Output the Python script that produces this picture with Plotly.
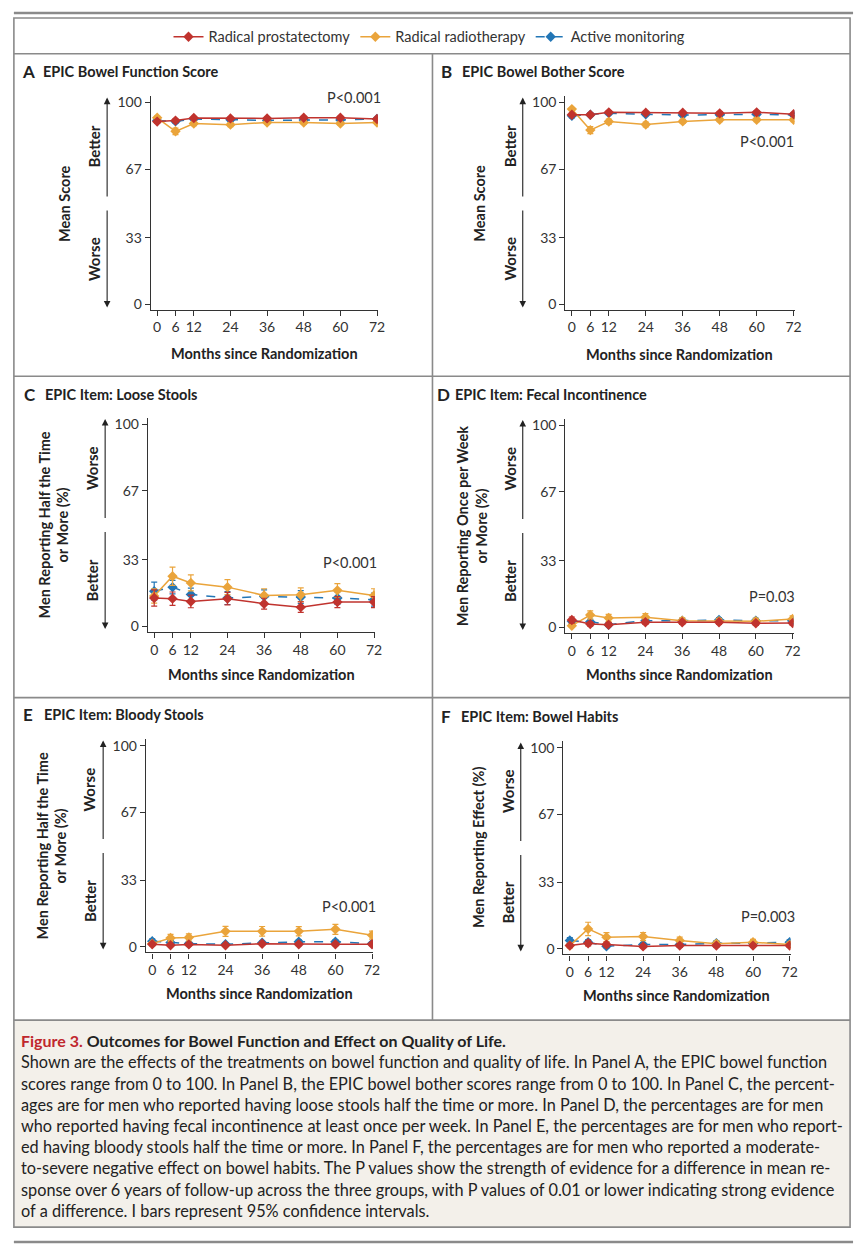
import plotly.graph_objects as go

W, H = 866, 1258
FONT = "Lato, 'Open Sans', sans-serif"

months = [0, 6, 12, 24, 36, 48, 60, 72]
series_names = ["Radical prostatectomy", "Radical radiotherapy", "Active monitoring"]

# Panel A: EPIC bowel function score
A_rp = [90.5, 91.0, 92.3, 92.1, 92.1, 92.4, 92.4, 91.8]
A_rt = [92.4, 85.7, 89.6, 89.0, 90.1, 90.1, 89.6, 90.1]
A_am = [91.0, 90.6, 91.8, 91.4, 91.1, 91.3, 91.3, 91.8]
A_rp_err = [0.8, 0.8, 0.7, 0.7, 0.7, 0.7, 0.7, 0.7]
A_rt_err = [0.8, 1.6, 1.1, 1.0, 0.9, 0.9, 0.9, 0.9]
A_am_err = [0.8, 0.8, 0.7, 0.7, 0.7, 0.7, 0.7, 0.7]

# Panel B: EPIC bowel bother score
B_rp = [93.9, 93.9, 95.1, 94.9, 94.9, 94.6, 95.1, 94.2]
B_rt = [96.7, 86.3, 90.5, 89.1, 90.6, 91.4, 91.4, 91.4]
B_am = [93.4, 93.9, 94.7, 94.1, 93.8, 93.9, 94.1, 93.8]
B_rp_err = [0.8, 0.8, 0.7, 0.7, 0.7, 0.7, 0.7, 0.7]
B_rt_err = [0.8, 1.7, 1.2, 1.2, 1.0, 0.9, 0.9, 0.9]
B_am_err = [1.0, 0.8, 0.7, 0.7, 0.7, 0.7, 0.7, 0.7]

# Panel C: loose stools
C_rp = [14.0, 13.7, 12.3, 13.7, 11.2, 9.5, 12.0, 12.0]
C_rt = [15.0, 24.8, 21.5, 19.4, 15.3, 15.6, 17.8, 15.3]
C_am = [17.4, 19.4, 15.8, 14.0, 14.8, 14.5, 14.0, 13.2]
C_rp_err = [4.0, 3.3, 3.1, 3.1, 2.7, 2.6, 2.7, 2.7]
C_rt_err = [3.5, 4.5, 4.0, 3.7, 3.3, 3.4, 3.3, 3.3]
C_am_err = [4.5, 3.3, 3.1, 3.2, 3.2, 3.2, 3.1, 3.2]

# Panel D: fecal incontinence
D_rp = [3.6, 1.6, 1.3, 2.5, 2.5, 2.5, 2.0, 2.1]
D_rt = [0.8, 6.1, 4.6, 5.0, 3.3, 3.0, 3.0, 4.1]
D_am = [3.0, 2.8, 1.3, 3.3, 3.3, 3.6, 3.3, 3.3]
D_rp_err = [1.5, 1.0, 0.9, 1.1, 1.0, 1.0, 1.0, 1.0]
D_rt_err = [0.8, 2.0, 1.8, 1.8, 1.4, 1.4, 1.4, 1.6]
D_am_err = [1.3, 1.2, 0.9, 1.2, 1.2, 1.2, 1.2, 1.2]

# Panel E: bloody stools
E_rp = [1.3, 0.8, 1.2, 0.8, 1.5, 1.3, 1.3, 1.3]
E_rt = [1.6, 4.4, 4.6, 7.7, 7.7, 7.7, 8.7, 5.8]
E_am = [2.8, 2.1, 1.6, 1.3, 2.0, 2.5, 2.5, 1.6]
E_rp_err = [0.7, 0.6, 0.6, 0.6, 0.7, 0.7, 0.7, 0.7]
E_rt_err = [1.0, 1.8, 1.8, 2.5, 2.4, 2.3, 2.5, 2.0]
E_am_err = [1.2, 1.0, 0.9, 0.8, 0.9, 1.0, 1.0, 0.9]

# Panel F: bowel habits
F_rp = [1.6, 2.8, 2.1, 1.2, 1.6, 1.6, 1.6, 1.6]
F_rt = [1.6, 9.9, 5.8, 6.1, 4.1, 2.5, 3.3, 2.1]
F_am = [4.1, 3.3, 1.3, 2.1, 2.1, 2.8, 2.8, 3.3]
F_rp_err = [1.0, 1.3, 1.1, 0.8, 0.9, 0.9, 0.9, 0.9]
F_rt_err = [1.0, 3.3, 2.2, 2.0, 1.7, 1.3, 1.4, 1.2]
F_am_err = [1.5, 1.3, 0.9, 1.0, 1.0, 1.1, 1.1, 1.2]

y_ticks = [0, 33, 67, 100]
x_ticks = months

panel_letters = ["A", "B", "C", "D", "E", "F"]
panel_titles = ["EPIC Bowel Function Score", "EPIC Bowel Bother Score",
                "EPIC Item: Loose Stools", "EPIC Item: Fecal Incontinence",
                "EPIC Item: Bloody Stools", "EPIC Item: Bowel Habits"]
y_titles = ["Mean Score", "Mean Score",
            "Men Reporting Half the Time<br>or More (%)",
            "Men Reporting Once per Week<br>or More (%)",
            "Men Reporting Half the Time<br>or More (%)",
            "Men Reporting Effect (%)"]
p_values = ["P<0.001", "P<0.001", "P<0.001", "P=0.03", "P<0.001", "P=0.003"]
x_title = "Months since Randomization"

data = [
    (A_rp, A_rt, A_am, A_rp_err, A_rt_err, A_am_err),
    (B_rp, B_rt, B_am, B_rp_err, B_rt_err, B_am_err),
    (C_rp, C_rt, C_am, C_rp_err, C_rt_err, C_am_err),
    (D_rp, D_rt, D_am, D_rp_err, D_rt_err, D_am_err),
    (E_rp, E_rt, E_am, E_rp_err, E_rt_err, E_am_err),
    (F_rp, F_rt, F_am, F_rp_err, F_rt_err, F_am_err),
]

COL_RP = "#c0332e"
COL_RT = "#eaa43b"
COL_AM = "#2276b6"
TXT = "#222222"


def px(x):
    return x / W


def py(y):
    return 1 - y / H


# axes domains in pixels: (x_left, x_right, y_top, y_bottom)
dom = [
    (152, 381, 93, 308),
    (570, 801, 93, 308),
    (149, 378, 417, 632),
    (570, 800, 418, 633),
    (147, 376, 740, 954),
    (568, 797, 742, 956),
]
XR = [-2.1, 72.3]
YR_AB = [-2.5, 103.4]
YR_CF = [-2.8, 103.1]

fig = go.Figure()
layout_axes = {}
annotations = []
shapes = []

for i in range(6):
    rp, rt, am, rpe, rte, ame = data[i]
    xa = "x" if i == 0 else f"x{i+1}"
    ya = "y" if i == 0 else f"y{i+1}"
    show = (i == 0)
    for name, vals, errs, col, dash, rank in [
        (series_names[2], am, ame, COL_AM, "dash", 3),
        (series_names[1], rt, rte, COL_RT, "solid", 2),
        (series_names[0], rp, rpe, COL_RP, "solid", 1),
    ]:
        fig.add_trace(go.Scatter(
            x=months, y=vals, mode="lines+markers", name=name,
            legendgroup=name, showlegend=show, legendrank=rank,
            line=dict(color=col, width=1.5, dash=dash),
            marker=dict(symbol="diamond", size=8, color=col),
            error_y=dict(type="data", array=errs, visible=True,
                         color=col, thickness=1.2, width=3),
            xaxis=xa, yaxis=ya,
        ))
    xl, xr, yt, yb = dom[i]
    yr = YR_AB if i < 2 else YR_CF
    key = "" if i == 0 else str(i + 1)
    layout_axes["xaxis" + key] = dict(
        domain=[px(xl), px(xr)], range=XR, anchor=ya,
        tickvals=x_ticks, ticks="outside", ticklen=5, tickwidth=1.1,
        tickcolor="#333", showline=True, linecolor="#333", linewidth=1.2,
        showgrid=False, zeroline=False,
        tickfont=dict(family=FONT, size=14, color="#333"),
    )
    layout_axes["yaxis" + key] = dict(
        domain=[py(yb), py(yt)], range=yr, anchor=xa,
        tickvals=y_ticks, ticks="outside", ticklen=5, tickwidth=1.1,
        tickcolor="#333", showline=True, linecolor="#333", linewidth=1.2,
        showgrid=False, zeroline=False,
        tickfont=dict(family=FONT, size=14, color="#333"),
    )

# panel specific text geometry (pixels)
letter_pos = [(20, 69), (443, 69), (22, 393), (439, 393), (21, 715), (443, 717)]
title_x = [41, 464, 43, 457, 42, 463]
arrow_x = [108, 527, 106, 527, 104, 525]
bw_x = [95, 514, 93, 514, 90, 512]
ytitle_x = [65, 483, 54, 476, 52, 483]
y100 = [100, 100, 423, 424, 746, 748]
y0 = [303, 303, 626, 627, 948, 950]
xtitle_y = [352, 353, 675, 675, 995, 997]
pval_pos = [(357, 95), (773, 139), (353, 562), (778, 596), (352, 908), (774, 918)]


def ann(x, y, text, size, color=TXT, xanchor="center", angle=0):
    return dict(x=px(x), y=py(y), xref="paper", yref="paper",
                xanchor=xanchor, yanchor="middle", showarrow=False,
                text=text, textangle=angle,
                font=dict(family=FONT, size=size, color=color))


for i in range(6):
    lx, ly = letter_pos[i]
    annotations.append(ann(lx, ly, "<b>" + panel_letters[i] + "</b>", 17, xanchor="left"))
    annotations.append(ann(title_x[i], ly, "<b>" + panel_titles[i] + "</b>", 14.5, xanchor="left"))
    mid = (y100[i] + y0[i]) / 2
    top_tip = y100[i] - 5
    bot_tip = y0[i] + 3
    ax_ = arrow_x[i]
    annotations.append(dict(
        x=px(ax_), y=py(top_tip), xref="paper", yref="paper",
        ax=0, ay=(mid - 6) - top_tip, showarrow=True, text="",
        arrowhead=2, arrowsize=1.2, arrowwidth=1.1, arrowcolor="#222"))
    annotations.append(dict(
        x=px(ax_), y=py(bot_tip), xref="paper", yref="paper",
        ax=0, ay=(mid + 6) - bot_tip, showarrow=True, text="",
        arrowhead=2, arrowsize=1.2, arrowwidth=1.1, arrowcolor="#222"))
    upper = "Better" if i < 2 else "Worse"
    lower = "Worse" if i < 2 else "Better"
    annotations.append(ann(bw_x[i], y100[i] + 44, "<b>" + upper + "</b>", 15, angle=-90))
    annotations.append(ann(bw_x[i], y0[i] - 46, "<b>" + lower + "</b>", 15, angle=-90))
    annotations.append(ann(ytitle_x[i], mid, "<b>" + y_titles[i] + "</b>", 14.5, angle=-90))
    xl, xr, yt, yb = dom[i]
    annotations.append(ann((xl + xr) / 2, xtitle_y[i], "<b>" + x_title + "</b>", 14.5))
    pxp, pyp = pval_pos[i]
    annotations.append(ann(pxp, pyp, p_values[i], 14.5, color="#333"))

# Caption
caption_lines = [
    "Shown are the effects of the treatments on bowel function and quality of life. In Panel A, the EPIC bowel function",
    "scores range from 0 to 100. In Panel B, the EPIC bowel bother scores range from 0 to 100. In Panel C, the percent-",
    "ages are for men who reported having loose stools half the time or more. In Panel D, the percentages are for men",
    "who reported having fecal incontinence at least once per week. In Panel E, the percentages are for men who report-",
    "ed having bloody stools half the time or more. In Panel F, the percentages are for men who reported a moderate-",
    "to-severe negative effect on bowel habits. The P values show the strength of evidence for a difference in mean re-",
    "sponse over 6 years of follow-up across the three groups, with P values of 0.01 or lower indicating strong evidence",
    "of a difference. I bars represent 95% confidence intervals.",
]
caption_title = ("<b><span style='color:#c0272d'>Figure 3.</span> "
                 "Outcomes for Bowel Function and Effect on Quality of Life.</b>")
annotations.append(ann(19, 1042, caption_title, 16, xanchor="left"))
for k, line in enumerate(caption_lines):
    annotations.append(ann(19, 1064 + k * 21.3, line, 16.3, xanchor="left"))

FR = "#8a8a8a"
shapes.append(dict(type="rect", xref="paper", yref="paper",
                   x0=px(14), x1=px(857), y0=py(1230), y1=py(1022),
                   fillcolor="#f3f0ea", line=dict(width=0), layer="below"))
shapes.append(dict(type="rect", xref="paper", yref="paper",
                   x0=px(14), x1=px(857), y0=py(1230), y1=py(15),
                   line=dict(color=FR, width=1.6)))
for yy in [51, 375, 698, 1022]:
    shapes.append(dict(type="line", xref="paper", yref="paper",
                       x0=px(14), x1=px(857), y0=py(yy), y1=py(yy),
                       line=dict(color=FR, width=1.6)))
shapes.append(dict(type="line", xref="paper", yref="paper",
                   x0=px(436), x1=px(436), y0=py(51), y1=py(1022),
                   line=dict(color=FR, width=1.6)))
for yy in [10, 1245]:
    shapes.append(dict(type="line", xref="paper", yref="paper",
                       x0=px(14), x1=px(860), y0=py(yy), y1=py(yy),
                       line=dict(color=FR, width=2.5)))

fig.update_layout(
    width=W, height=H, margin=dict(l=0, r=0, t=0, b=0),
    paper_bgcolor="white", plot_bgcolor="white",
    font=dict(family=FONT, size=13, color=TXT),
    showlegend=True,
    legend=dict(orientation="h", x=0.5, xanchor="center", y=py(34),
                yanchor="middle", font=dict(family=FONT, size=14.5, color="#333"),
                bgcolor="rgba(0,0,0,0)", itemwidth=30, tracegroupgap=0),
    annotations=annotations, shapes=shapes,
    **layout_axes,
)

fig.write_html("out.html", config={"displayModeBar": False},
               post_script="document.body.style.margin='0px';")
